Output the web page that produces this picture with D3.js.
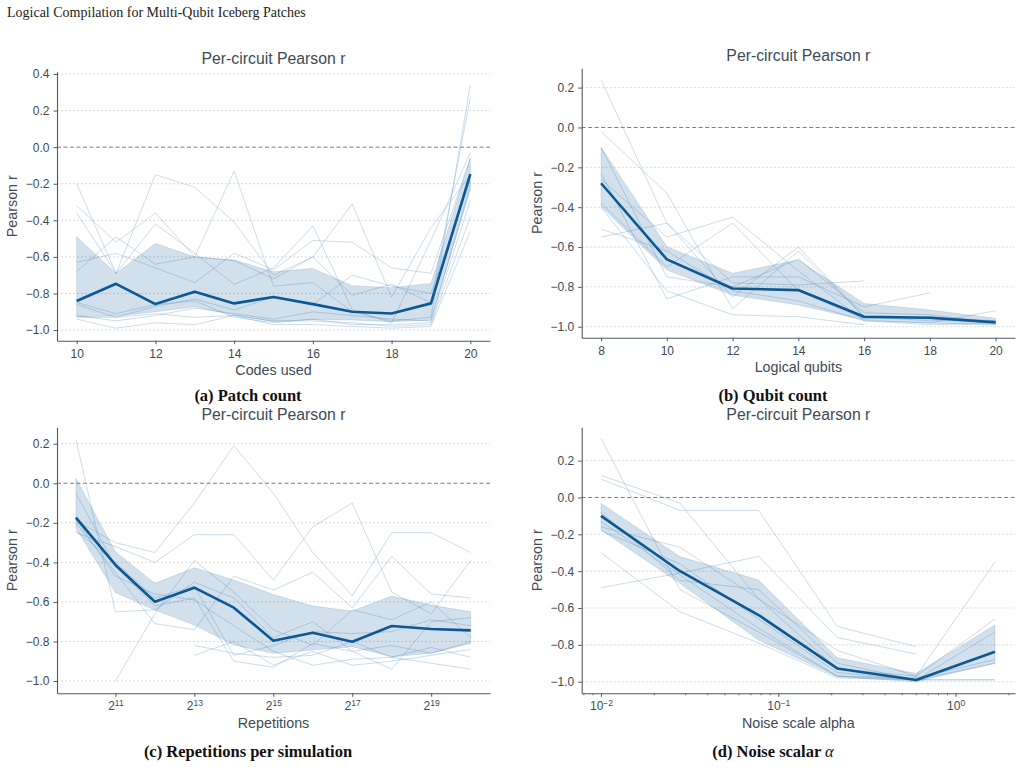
<!DOCTYPE html>
<html><head><meta charset="utf-8">
<script src="https://cdn.jsdelivr.net/npm/d3@7"></script>
<style>body{margin:0;background:#fff}</style>
</head><body>
<svg id="fig" width="1022" height="767"></svg>
<script>
// ---------------- DATA ----------------
const figTitle = "Logical Compilation for Multi-Qubit Iceberg Patches";
const panelTitle = "Per-circuit Pearson r";
const yLabel = "Pearson r";

// (a) Patch count
const codesUsed = [10, 11, 12, 13, 14, 15, 16, 17, 18, 19, 20];
const patchMean  = [-0.841, -0.747, -0.858, -0.790, -0.854, -0.819, -0.858, -0.900, -0.909, -0.854, -0.147];
const patchUpper = [-0.490, -0.690, -0.526, -0.600, -0.617, -0.681, -0.663, -0.757, -0.768, -0.745, -0.061];
const patchLower = [-0.927, -0.923, -0.900, -0.872, -0.918, -0.954, -0.942, -0.945, -0.954, -0.945, -0.234];
const patchRuns = [
  [-0.20, -0.69, -0.15, -0.22, -0.41, -0.70, -0.60, -0.81, -0.75, -0.85, 0.27],
  [-0.32, -0.52, -0.36, -0.60, -0.13, -0.76, -0.74, -0.90, -0.95, -0.93, 0.34],
  [-0.36, -0.69, -0.42, -0.58, -0.75, -0.66, -0.43, -0.89, -0.96, -0.51, -0.03],
  [-0.63, -0.58, -0.66, -0.74, -0.58, -0.67, -0.51, -0.52, -0.66, -0.69, -0.06],
  [-0.68, -0.49, -0.64, -0.60, -0.62, -0.72, -0.60, -0.31, -0.82, -0.44, -0.15],
  [-0.85, -0.91, -0.86, -0.84, -0.93, -0.96, -0.94, -0.97, -0.97, -0.96, -0.29],
  [-0.93, -0.93, -0.91, -0.93, -0.92, -0.95, -0.95, -0.96, -0.98, -0.97, -0.38],
  [-0.94, -0.99, -0.96, -0.97, -0.92, -0.97, -0.97, -0.98, -0.99, -0.98, -0.46],
  [-0.92, -0.95, -0.92, -0.88, -0.91, -0.94, -0.90, -0.92, -0.94, -0.95, -0.21],
  [-0.86, -0.93, -0.87, -0.83, -0.89, -0.82, -0.86, -0.70, -0.76, -0.80, -0.18]
];

// (b) Qubit count
const logicalQubits = [8, 10, 12, 14, 16, 18, 20];
const qubitMean  = [-0.280, -0.662, -0.808, -0.816, -0.950, -0.955, -0.978];
const qubitUpper = [-0.100, -0.598, -0.732, -0.665, -0.883, -0.916, -0.958];
const qubitLower = [-0.397, -0.715, -0.841, -0.891, -0.966, -0.983, -0.992];
const qubitRuns = [
  [0.24, -0.48, -0.85, -0.60, -0.95, -0.96, -0.98],
  [-0.02, -0.33, -0.91, -0.62, -0.95, -0.97, -0.97],
  [-0.10, -0.75, -0.80, -0.66, -0.93, -0.94, -0.98],
  [-0.23, -0.86, -0.75, -0.75, -0.90, -0.83, null],
  [-0.26, -0.55, -0.45, -0.72, -0.97, -0.99, -0.98],
  [-0.38, -0.70, -0.48, -0.82, -0.96, -0.95, -0.97],
  [-0.40, -0.82, -0.94, -0.95, -0.99, null, null],
  [-0.51, -0.62, -0.82, -0.87, -0.97, -0.98, -0.92],
  [-0.55, -0.48, -0.78, -0.79, -0.77, null, null]
];

// (c) Repetitions per simulation
const repetitions = [1024, 2048, 4096, 8192, 16384, 32768, 65536, 131072, 262144, 524288, 1048576];
const repMean  = [-0.174, -0.413, -0.599, -0.528, -0.629, -0.796, -0.756, -0.801, -0.722, -0.737, -0.744];
const repUpper = [0.025, -0.346, -0.506, -0.427, -0.489, -0.562, -0.621, -0.646, -0.570, -0.616, -0.650];
const repLower = [-0.228, -0.552, -0.641, -0.717, -0.818, -0.860, -0.843, -0.826, -0.877, -0.860, -0.810];
const repRuns = [
  [0.22, -0.65, -0.64, -0.50, -0.58, -0.78, -0.70, -0.85, -0.94, -0.70, -0.68],
  [-0.19, -0.30, -0.35, -0.10, 0.19, -0.05, -0.35, -0.57, -0.25, -0.25, -0.35],
  [-0.25, -0.32, -0.40, -0.26, -0.26, -0.49, -0.22, -0.10, -0.55, -0.66, -0.39],
  [-0.20, -0.45, -0.71, -0.74, -0.47, -0.54, -0.45, -0.63, -0.37, -0.56, -0.58],
  [null, -1.00, -0.66, -0.39, -0.55, -0.74, -0.82, -0.64, -0.69, -0.60, -0.78],
  [null, null, null, -0.82, -0.86, -0.88, -0.87, -0.80, -0.88, -0.83, -0.88],
  [null, null, null, -0.87, -0.80, -0.92, -0.85, -0.92, -0.90, -0.87, -0.84],
  [-0.18, -0.47, -0.56, -0.59, -0.72, -0.85, -0.92, -0.89, -0.88, -0.91, -0.94],
  [-0.05, -0.42, -0.62, -0.58, -0.90, -0.93, -0.81, -0.85, -0.82, -0.86, -0.80],
  [-0.24, -0.40, -0.58, -0.52, -0.87, -0.82, -0.75, -0.76, -0.75, -0.69, -0.72]
];

// (d) Noise scalar alpha
const noiseAlpha = [0.01, 0.0278, 0.0774, 0.215, 0.599, 1.668];
const noiseMean  = [-0.100, -0.399, -0.638, -0.928, -0.991, -0.837];
const noiseUpper = [-0.032, -0.321, -0.448, -0.870, -0.955, -0.692];
const noiseLower = [-0.176, -0.466, -0.774, -0.973, -1.000, -0.900];
const noiseRuns = [
  [0.32, -0.50, -0.73, -0.97, -0.99, -0.99],
  [0.12, -0.03, -0.55, -0.93, -0.97, -0.35],
  [0.10, -0.07, -0.07, -0.70, -0.81, null],
  [-0.49, -0.41, -0.32, -0.76, -0.85, null],
  [-0.30, -0.62, -0.79, -0.98, -0.99, -0.99],
  [-0.16, -0.27, -0.55, -0.83, -0.97, -0.66],
  [-0.08, -0.45, -0.50, -0.90, -0.99, -0.73],
  [-0.18, -0.36, -0.66, -0.95, -0.99, -0.90],
  [-0.13, -0.42, -0.71, -0.97, -0.98, -0.88]
];

const yTicksA = [0.4, 0.2, 0.0, -0.2, -0.4, -0.6, -0.8, -1.0];
const yTicksB = [0.2, 0.0, -0.2, -0.4, -0.6, -0.8, -1.0];
const xTicksA = [10, 12, 14, 16, 18, 20];
const xTicksB = [8, 10, 12, 14, 16, 18, 20];
const xTicksC = [2048, 8192, 32768, 131072, 524288];
const xTicksD = [0.01, 0.1, 1];

const captions = ["(a) Patch count", "(b) Qubit count", "(c) Repetitions per simulation", "(d) Noise scalar "];
const xLabels = ["Codes used", "Logical qubits", "Repetitions", "Noise scale alpha"];

// ---------------- DRAWING ----------------
const svg = d3.select("#fig");
const SANS = "'Liberation Sans', Arial, Helvetica, sans-serif";
const SERIF = "'Liberation Serif', 'DejaVu Serif', serif";
const TXT = "#3e4a56";
const SPINE = "#4e5964";

svg.append("rect").attr("width", 1022).attr("height", 767).attr("fill", "#fff");

svg.append("text").attr("x", 7).attr("y", 16.5)
  .attr("font-family", SERIF).attr("font-size", 14).attr("fill", "#222")
  .text(figTitle);

function supLabel(sel, base, expFn) {
  sel.selectAll(".tick text").each(function(d) {
    const t = d3.select(this);
    t.text(null);
    t.append("tspan").text(base);
    t.append("tspan").attr("dy", "-0.55em").attr("font-size", "8.5px").text(expFn(d));
  });
}

function panel(o) {
  const g = svg.append("g");
  const x = o.x.range([o.left, o.right]);
  const y = d3.scaleLinear().domain(o.yDomain).range([o.bottom, o.top]);

  g.selectAll("line.grid").data(o.yTicks.filter(v => v !== 0)).join("line")
    .attr("x1", o.left).attr("x2", o.right)
    .attr("y1", d => y(d)).attr("y2", d => y(d))
    .attr("stroke", "#cfcfcf").attr("stroke-width", 0.8).attr("stroke-dasharray", "2,2");
  g.append("line").attr("x1", o.left).attr("x2", o.right)
    .attr("y1", y(0)).attr("y2", y(0))
    .attr("stroke", "#7d7d7d").attr("stroke-width", 1).attr("stroke-dasharray", "4,2.5");

  const line = d3.line().defined(d => d[1] != null).x(d => x(d[0])).y(d => y(d[1]));
  o.runs.forEach(r => {
    g.append("path").datum(o.xs.map((xv, i) => [xv, r[i]]))
      .attr("d", line).attr("fill", "none")
      .attr("stroke", "#6fa0c8").attr("stroke-opacity", 0.36).attr("stroke-width", 1);
  });

  const area = d3.area().x(d => x(d[0])).y0(d => y(d[1])).y1(d => y(d[2]));
  g.append("path").datum(o.xs.map((xv, i) => [xv, o.lower[i], o.upper[i]]))
    .attr("d", area).attr("fill", "#1f63a0").attr("fill-opacity", 0.2)
    .attr("stroke", "#1f63a0").attr("stroke-opacity", 0.15).attr("stroke-width", 1);

  g.append("path").datum(o.xs.map((xv, i) => [xv, o.mean[i]]))
    .attr("d", line).attr("fill", "none")
    .attr("stroke", "#0b5894").attr("stroke-width", 2.6).attr("stroke-linejoin", "round");

  const ya = g.append("g").attr("transform", `translate(${o.left},0)`)
    .call(d3.axisLeft(y).tickValues(o.yTicks).tickSize(3.5).tickSizeOuter(0).tickPadding(4).tickFormat(d3.format(".1f")));
  const xa = g.append("g").attr("transform", `translate(0,${o.bottom})`)
    .call(d3.axisBottom(x).tickValues(o.xTicks).tickSize(3.5).tickSizeOuter(0).tickPadding(5).tickFormat(o.xFormat || d3.format("d")));
  if (o.minor) {
    xa.selectAll("line.minor").data(o.minor).join("line").attr("class", "minor")
      .attr("x1", d => x(d)).attr("x2", d => x(d)).attr("y1", 0).attr("y2", 2)
      .attr("stroke", SPINE).attr("stroke-width", 0.8);
  }
  if (o.post) o.post(xa);
  [ya, xa].forEach(a => {
    a.select(".domain").attr("stroke", SPINE).attr("stroke-width", 1.1);
    a.selectAll(".tick line").attr("stroke", SPINE).attr("stroke-width", 1);
    a.selectAll("text").attr("fill", TXT).attr("font-family", SANS).attr("font-size", 12);
  });

  const cx = (o.left + o.right) / 2;
  g.append("text").attr("x", cx).attr("y", o.top - 7.5).attr("text-anchor", "middle")
    .attr("font-family", SANS).attr("font-size", 15.8).attr("fill", TXT).text(panelTitle);
  g.append("text").attr("x", cx).attr("y", o.bottom + 34.5).attr("text-anchor", "middle")
    .attr("font-family", SANS).attr("font-size", 14.3).attr("fill", TXT).text(o.xLabel);
  g.append("text").attr("transform", `translate(${o.left - 40},${(o.top + o.bottom) / 2}) rotate(-90)`)
    .attr("text-anchor", "middle").attr("font-family", SANS).attr("font-size", 14.3).attr("fill", TXT).text(yLabel);

  const cap = g.append("text").attr("x", o.capX).attr("y", o.capY).attr("text-anchor", "middle")
    .attr("font-family", SERIF).attr("font-weight", "bold").attr("font-size", 16.5).attr("fill", "#111")
    .text(o.caption);
  if (o.capItalic) cap.append("tspan").attr("font-style", "italic").attr("font-weight", "normal").text(o.capItalic);
}

panel({
  x: d3.scaleLinear().domain([9.5, 20.5]), xs: codesUsed, xTicks: xTicksA,
  yDomain: [-1.058, 0.4125], yTicks: yTicksA,
  left: 57, right: 490, top: 71.7, bottom: 340.7,
  runs: patchRuns, mean: patchMean, lower: patchLower, upper: patchUpper,
  xLabel: xLabels[0], caption: captions[0], capX: 248, capY: 400.5
});
panel({
  x: d3.scaleLinear().domain([7.41, 20.59]), xs: logicalQubits, xTicks: xTicksB,
  yDomain: [-1.055, 0.297], yTicks: yTicksB,
  left: 581.7, right: 1015, top: 68.3, bottom: 337.7,
  runs: qubitRuns, mean: qubitMean, lower: qubitLower, upper: qubitUpper,
  xLabel: xLabels[1], caption: captions[1], capX: 773, capY: 400.5
});
panel({
  x: d3.scaleLog().base(2).domain([Math.pow(2, 9.52), Math.pow(2, 20.49)]), xs: repetitions, xTicks: xTicksC,
  xFormat: d => "", post: a => supLabel(a, "2", d => Math.round(Math.log2(d))),
  yDomain: [-1.062, 0.283], yTicks: yTicksB,
  left: 57, right: 490, top: 427.3, bottom: 693.3,
  runs: repRuns, mean: repMean, lower: repLower, upper: repUpper,
  xLabel: xLabels[2], caption: captions[2], capX: 248, capY: 756.5
});
const minorD = [];
[0.001, 0.01, 0.1, 1].forEach(p => { for (let k = 2; k <= 9; k++) { const v = k * p; if (v > Math.pow(10, -2.109) && v < Math.pow(10, 0.335)) minorD.push(v); } });
panel({
  x: d3.scaleLog().domain([Math.pow(10, -2.109), Math.pow(10, 0.335)]), xs: noiseAlpha, xTicks: xTicksD,
  xFormat: d => "", minor: minorD,
  post: a => supLabel(a, "10", d => { const e = Math.round(Math.log10(d)); return e < 0 ? "\u2212" + (-e) : String(e); }),
  yDomain: [-1.063, 0.381], yTicks: yTicksB,
  left: 581.7, right: 1015, top: 427.3, bottom: 693.3,
  runs: noiseRuns, mean: noiseMean, lower: noiseLower, upper: noiseUpper,
  xLabel: xLabels[3], caption: captions[3], capItalic: "\u03b1", capX: 773, capY: 756.5
});
</script>
</body></html>
